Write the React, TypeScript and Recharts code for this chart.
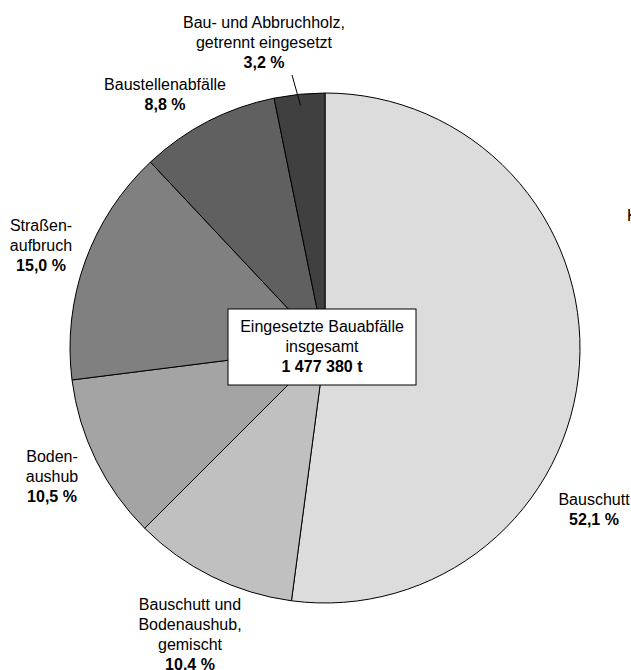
import React from "react";
import { PieChart, Pie, Cell } from "recharts";

// Eingesetzte Bauabfälle nach Abfallart (Anteile in %)
const CATEGORIES = [
  "Bauschutt",
  "Bauschutt und Bodenaushub, gemischt",
  "Bodenaushub",
  "Straßenaufbruch",
  "Baustellenabfälle",
  "Bau- und Abbruchholz, getrennt eingesetzt",
];
const SHARES = [52.1, 10.4, 10.5, 15.0, 8.8, 3.2];
const SHARE_LABELS = ["52,1 %", "10.4 %", "10,5 %", "15,0 %", "8,8 %", "3,2 %"];
const LABEL_LINES = [
  ["Bauschutt"],
  ["Bauschutt und", "Bodenaushub,", "gemischt"],
  ["Boden-", "aushub"],
  ["Straßen-", "aufbruch"],
  ["Baustellenabfälle"],
  ["Bau- und Abbruchholz,", "getrennt eingesetzt"],
];
const TOTAL_LINES = ["Eingesetzte Bauabfälle", "insgesamt"];
const TOTAL_VALUE = "1 477 380 t";

const COLORS = ["#dcdcdc", "#c0c0c0", "#a4a4a4", "#808080", "#606060", "#404040"];

// label placement relative to pie centre (first line baseline)
const LABEL_OFFSETS = [
  [269, 157],
  [-135, 262],
  [-273, 114],
  [-284, -117],
  [-160, -258],
  [-61, -320],
];

const FONT = "'Liberation Sans', Arial, Helvetica, sans-serif";
const CX = 325;
const CY = 348;
const R = 255;
const LH = 20;

const data = CATEGORIES.map((name, i) => ({ name, value: SHARES[i] }));

const renderLabel = (props: any) => {
  const { cx, cy, index, midAngle, outerRadius } = props;
  const [dx, dy] = LABEL_OFFSETS[index];
  const x = cx + dx;
  const y = cy + dy;
  const lines = LABEL_LINES[index];
  const RAD = Math.PI / 180;
  let leader = null;
  if (index === 5) {
    const r = outerRadius - 11;
    const ex = cx + r * Math.cos(-midAngle * RAD);
    const ey = cy + r * Math.sin(-midAngle * RAD);
    leader = <line x1={x + 28} y1={y + 47} x2={ex} y2={ey} stroke="#000" strokeWidth={1} />;
  }
  return (
    <g key={`lbl-${index}`}>
      <text x={x} y={y} textAnchor="middle" fontFamily={FONT} fontSize={16} fill="#000">
        {lines.map((l, j) => (
          <tspan key={j} x={x} y={y + j * LH}>
            {l}
          </tspan>
        ))}
        <tspan x={x} y={y + lines.length * LH} fontWeight="bold">
          {SHARE_LABELS[index]}
        </tspan>
      </text>
      {leader}
    </g>
  );
};

export default function App() {
  return (
    <div style={{ position: "absolute", left: 0, top: 0, width: 631, height: 670, background: "#fff", overflow: "hidden" }}>
      <PieChart width={631} height={670} margin={{ top: 0, right: 0, bottom: 0, left: 0 }}>
        <Pie
          data={data}
          dataKey="value"
          nameKey="name"
          cx={CX}
          cy={CY}
          outerRadius={R}
          startAngle={90}
          endAngle={-270}
          stroke="#000"
          strokeWidth={1}
          label={renderLabel}
          labelLine={false}
          isAnimationActive={false}
        >
          {data.map((d, i) => (
            <Cell key={d.name} fill={COLORS[i]} />
          ))}
        </Pie>
      </PieChart>
      <svg width={631} height={670} style={{ position: "absolute", left: 0, top: 0, pointerEvents: "none" }}>
        <rect x={CX - 97} y={CY - 39} width={188} height={76} fill="#fff" stroke="#000" strokeWidth={1} />
        <text textAnchor="middle" fontFamily={FONT} fontSize={16} fill="#000">
          <tspan x={CX - 3} y={CY - 16}>{TOTAL_LINES[0]}</tspan>
          <tspan x={CX - 3} y={CY + 4}>{TOTAL_LINES[1]}</tspan>
          <tspan x={CX - 3} y={CY + 24} fontWeight="bold">{TOTAL_VALUE}</tspan>
        </text>
        <text x={627} y={221} fontFamily={FONT} fontSize={16} fill="#000">K</text>
      </svg>
    </div>
  );
}
